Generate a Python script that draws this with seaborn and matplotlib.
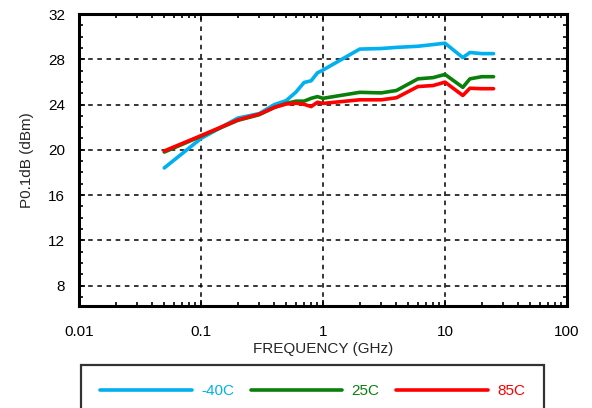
import pandas as pd
import seaborn as sns
import matplotlib.pyplot as plt
from matplotlib.ticker import MultipleLocator, LogLocator, FixedLocator, NullFormatter

# frequency points (GHz)
freq = [0.05, 0.1, 0.2, 0.3, 0.4, 0.5, 0.6, 0.7, 0.8, 0.9, 1.0,
        2, 3, 4, 6, 8, 10, 14, 16, 20, 25]

# P0.1dB (dBm) per temperature
p_m40 = [18.4, 21.0, 22.8, 23.2, 24.0, 24.35, 25.1, 25.95, 26.1, 26.8, 27.05,
         28.9, 28.95, 29.05, 29.15, 29.3, 29.42, 28.15, 28.6, 28.5, 28.5]
p_25 = [19.8, 21.2, 22.6, 23.1, 23.75, 24.1, 24.3, 24.3, 24.55, 24.7, 24.55,
        25.08, 25.03, 25.24, 26.27, 26.38, 26.66, 25.52, 26.27, 26.46, 26.46]
p_85 = [19.9, 21.25, 22.64, 23.15, 23.75, 24.05, 24.12, 24.02, 23.82, 24.2, 24.1,
        24.42, 24.42, 24.6, 25.59, 25.68, 25.98, 24.8, 25.44, 25.4, 25.4]

temps = ['-40C', '25C', '85C']
colors = ['#00B0F0', '#0A800A', '#FF0000']

df = pd.concat([
    pd.DataFrame({'freq': freq, 'p': p_m40, 'temp': temps[0]}),
    pd.DataFrame({'freq': freq, 'p': p_25, 'temp': temps[1]}),
    pd.DataFrame({'freq': freq, 'p': p_85, 'temp': temps[2]}),
])

sns.set_style('white')
plt.rcParams['font.family'] = ['Liberation Sans', 'DejaVu Sans']

fig = plt.figure(figsize=(5.92, 4.08), dpi=100)
ax = fig.add_axes([79/592, 1-306/408, (567-79)/592, (306-14)/408])

sns.lineplot(data=df, x='freq', y='p', hue='temp', palette=colors,
             linewidth=2.6, legend=False, ax=ax, estimator=None, sort=False)

ax.set_xscale('log')
ax.set_xlim(0.01, 100)
ax.set_ylim(6.2, 32)
ax.xaxis.set_major_locator(FixedLocator([0.01, 0.1, 1, 10, 100]))
ax.set_xticklabels(['0.01', '0.1', '1', '10', '100'])
ax.xaxis.set_minor_locator(LogLocator(base=10, subs=range(2, 10)))
ax.xaxis.set_minor_formatter(NullFormatter())
ax.yaxis.set_major_locator(MultipleLocator(4))
ax.yaxis.set_minor_locator(MultipleLocator(1))
ax.set_yticks([8, 12, 16, 20, 24, 28, 32])

ax.grid(True, which='major', color='black', linestyle=(0, (3, 3)), linewidth=1.1)
ax.tick_params(which='both', direction='in', top=True, right=True, bottom=True, left=True,
               colors='black', labelsize=11)
ax.tick_params(which='major', length=4, width=1.2, pad=10)
ax.tick_params(which='minor', length=3, width=1.2)
ax.tick_params(axis='x', which='major', pad=14)
for s in ax.spines.values():
    s.set_visible(True)
    s.set_linewidth(2.2)
    s.set_color('black')

ax.set_xlabel('FREQUENCY (GHz)', fontsize=11, labelpad=2)
ax.set_ylabel('P0.1dB (dBm)', fontsize=11, labelpad=10)

handles = ax.get_lines()[:3]
leg = fig.legend(handles, temps, loc='upper left', ncol=3,
                 bbox_to_anchor=(81/592, 1-365/408), fontsize=11,
                 labelcolor='linecolor', frameon=True, fancybox=False,
                 handlelength=6.0, handletextpad=0.6, columnspacing=1.1,
                 borderpad=1.25, borderaxespad=0)
leg.get_frame().set_edgecolor('black')
leg.get_frame().set_linewidth(1.6)

fig.savefig('out.png', dpi=100)
